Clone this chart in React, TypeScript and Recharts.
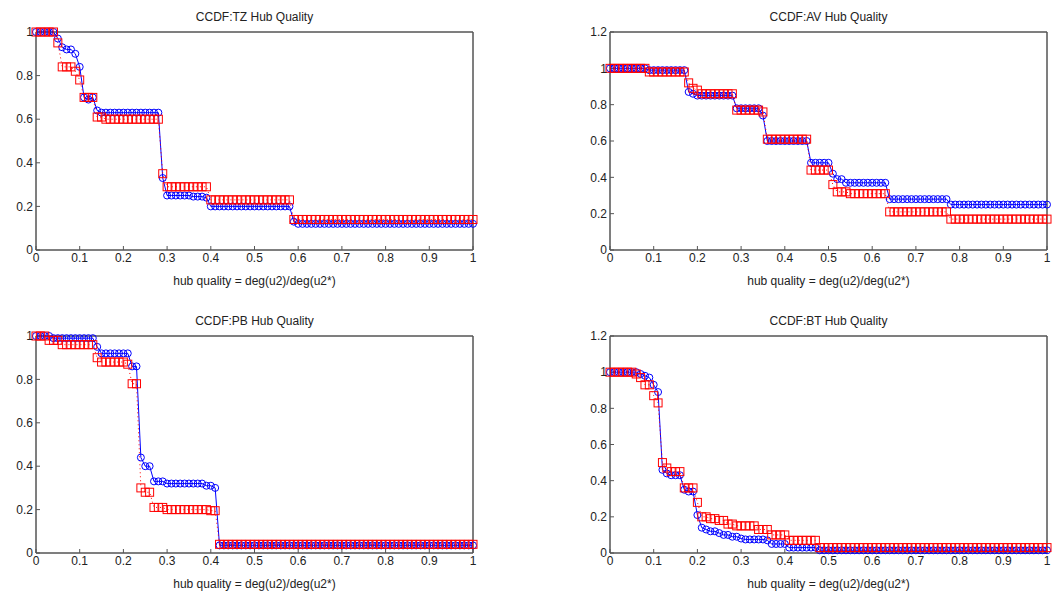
import { LineChart, Line, XAxis, YAxis, Label, ReferenceArea } from 'recharts';

// hub quality grid, step 0.01
const X = [
  0, 0.01, 0.02, 0.03, 0.04, 0.05, 0.06, 0.07, 0.08, 0.09,
  0.1, 0.11, 0.12, 0.13, 0.14, 0.15, 0.16, 0.17, 0.18, 0.19,
  0.2, 0.21, 0.22, 0.23, 0.24, 0.25, 0.26, 0.27, 0.28, 0.29,
  0.3, 0.31, 0.32, 0.33, 0.34, 0.35, 0.36, 0.37, 0.38, 0.39,
  0.4, 0.41, 0.42, 0.43, 0.44, 0.45, 0.46, 0.47, 0.48, 0.49,
  0.5, 0.51, 0.52, 0.53, 0.54, 0.55, 0.56, 0.57, 0.58, 0.59,
  0.6, 0.61, 0.62, 0.63, 0.64, 0.65, 0.66, 0.67, 0.68, 0.69,
  0.7, 0.71, 0.72, 0.73, 0.74, 0.75, 0.76, 0.77, 0.78, 0.79,
  0.8, 0.81, 0.82, 0.83, 0.84, 0.85, 0.86, 0.87, 0.88, 0.89,
  0.9, 0.91, 0.92, 0.93, 0.94, 0.95, 0.96, 0.97, 0.98, 0.99,
  1,
];

const TZ_BLUE = [
  1, 1, 1, 1, 1, 0.97, 0.93, 0.92, 0.92, 0.9,
  0.84, 0.7, 0.69, 0.7, 0.64, 0.63, 0.63, 0.63, 0.63, 0.63,
  0.63, 0.63, 0.63, 0.63, 0.63, 0.63, 0.63, 0.63, 0.63, 0.33,
  0.25, 0.25, 0.25, 0.25, 0.25, 0.25, 0.245, 0.245, 0.245, 0.24,
  0.2, 0.2, 0.2, 0.2, 0.2, 0.2, 0.2, 0.2, 0.2, 0.2,
  0.2, 0.2, 0.2, 0.2, 0.2, 0.2, 0.2, 0.2, 0.2, 0.13,
  0.12, 0.12, 0.12, 0.12, 0.12, 0.12, 0.12, 0.12, 0.12, 0.12,
  0.12, 0.12, 0.12, 0.12, 0.12, 0.12, 0.12, 0.12, 0.12, 0.12,
  0.12, 0.12, 0.12, 0.12, 0.12, 0.12, 0.12, 0.12, 0.12, 0.12,
  0.12, 0.12, 0.12, 0.12, 0.12, 0.12, 0.12, 0.12, 0.12, 0.12,
  0.12,
];
const TZ_RED = [
  1, 1, 1, 1, 1, 0.95, 0.84, 0.84, 0.84, 0.82,
  0.78, 0.7, 0.7, 0.7, 0.61, 0.61, 0.6, 0.6, 0.6, 0.6,
  0.6, 0.6, 0.6, 0.6, 0.6, 0.6, 0.6, 0.6, 0.6, 0.35,
  0.29, 0.29, 0.29, 0.29, 0.29, 0.29, 0.29, 0.29, 0.29, 0.29,
  0.23, 0.23, 0.23, 0.23, 0.23, 0.23, 0.23, 0.23, 0.23, 0.23,
  0.23, 0.23, 0.23, 0.23, 0.23, 0.23, 0.23, 0.23, 0.23, 0.14,
  0.14, 0.14, 0.14, 0.14, 0.14, 0.14, 0.14, 0.14, 0.14, 0.14,
  0.14, 0.14, 0.14, 0.14, 0.14, 0.14, 0.14, 0.14, 0.14, 0.14,
  0.14, 0.14, 0.14, 0.14, 0.14, 0.14, 0.14, 0.14, 0.14, 0.14,
  0.14, 0.14, 0.14, 0.14, 0.14, 0.14, 0.14, 0.14, 0.14, 0.14,
  0.14,
];

const AV_BLUE = [
  1, 1, 1, 1, 1, 1, 1, 1, 1, 0.99,
  0.99, 0.99, 0.99, 0.99, 0.99, 0.99, 0.99, 0.99, 0.87, 0.86,
  0.85, 0.85, 0.85, 0.85, 0.85, 0.85, 0.85, 0.85, 0.85, 0.78,
  0.78, 0.78, 0.78, 0.78, 0.78, 0.74, 0.6, 0.6, 0.6, 0.6,
  0.6, 0.6, 0.6, 0.6, 0.6, 0.6, 0.48, 0.48, 0.48, 0.48,
  0.48, 0.42, 0.39, 0.39, 0.37, 0.37, 0.37, 0.37, 0.37, 0.37,
  0.37, 0.37, 0.37, 0.37, 0.28, 0.28, 0.28, 0.28, 0.28, 0.28,
  0.28, 0.28, 0.28, 0.28, 0.28, 0.28, 0.28, 0.28, 0.25, 0.25,
  0.25, 0.25, 0.25, 0.25, 0.25, 0.25, 0.25, 0.25, 0.25, 0.25,
  0.25, 0.25, 0.25, 0.25, 0.25, 0.25, 0.25, 0.25, 0.25, 0.25,
  0.25,
];
const AV_RED = [
  1, 1, 1, 1, 1, 1, 1, 1, 1, 0.98,
  0.98, 0.98, 0.98, 0.98, 0.98, 0.98, 0.98, 0.98, 0.92, 0.89,
  0.88, 0.86, 0.86, 0.86, 0.86, 0.86, 0.86, 0.86, 0.86, 0.77,
  0.77, 0.77, 0.77, 0.77, 0.77, 0.76, 0.61, 0.61, 0.61, 0.61,
  0.61, 0.61, 0.61, 0.61, 0.61, 0.61, 0.44, 0.44, 0.44, 0.44,
  0.44, 0.36, 0.32, 0.32, 0.32, 0.31, 0.31, 0.31, 0.31, 0.31,
  0.31, 0.31, 0.31, 0.31, 0.21, 0.21, 0.21, 0.21, 0.21, 0.21,
  0.21, 0.21, 0.21, 0.21, 0.21, 0.21, 0.21, 0.21, 0.17, 0.17,
  0.17, 0.17, 0.17, 0.17, 0.17, 0.17, 0.17, 0.17, 0.17, 0.17,
  0.17, 0.17, 0.17, 0.17, 0.17, 0.17, 0.17, 0.17, 0.17, 0.17,
  0.17,
];

const PB_BLUE = [
  1, 1, 1, 1, 0.99, 0.99, 0.99, 0.99, 0.99, 0.99,
  0.99, 0.99, 0.99, 0.99, 0.95, 0.92, 0.92, 0.92, 0.92, 0.92,
  0.92, 0.92, 0.86, 0.86, 0.44, 0.4, 0.4, 0.33, 0.33, 0.33,
  0.32, 0.32, 0.32, 0.32, 0.32, 0.32, 0.32, 0.32, 0.32, 0.31,
  0.31, 0.3, 0.035, 0.035, 0.035, 0.035, 0.035, 0.035, 0.035, 0.035,
  0.035, 0.035, 0.035, 0.035, 0.035, 0.035, 0.035, 0.035, 0.035, 0.035,
  0.035, 0.035, 0.035, 0.035, 0.035, 0.035, 0.035, 0.035, 0.035, 0.035,
  0.035, 0.035, 0.035, 0.035, 0.035, 0.035, 0.035, 0.035, 0.035, 0.035,
  0.035, 0.035, 0.035, 0.035, 0.035, 0.035, 0.035, 0.035, 0.035, 0.035,
  0.035, 0.035, 0.035, 0.035, 0.035, 0.035, 0.035, 0.035, 0.035, 0.035,
  0.035,
];
const PB_RED = [
  1, 1, 1, 0.98, 0.98, 0.98, 0.96, 0.96, 0.96, 0.96,
  0.96, 0.96, 0.96, 0.96, 0.9, 0.88, 0.88, 0.88, 0.88, 0.88,
  0.88, 0.87, 0.78, 0.78, 0.3, 0.28, 0.28, 0.21, 0.21, 0.21,
  0.2, 0.2, 0.2, 0.2, 0.2, 0.2, 0.2, 0.2, 0.2, 0.2,
  0.195, 0.195, 0.04, 0.04, 0.04, 0.04, 0.04, 0.04, 0.04, 0.04,
  0.04, 0.04, 0.04, 0.04, 0.04, 0.04, 0.04, 0.04, 0.04, 0.04,
  0.04, 0.04, 0.04, 0.04, 0.04, 0.04, 0.04, 0.04, 0.04, 0.04,
  0.04, 0.04, 0.04, 0.04, 0.04, 0.04, 0.04, 0.04, 0.04, 0.04,
  0.04, 0.04, 0.04, 0.04, 0.04, 0.04, 0.04, 0.04, 0.04, 0.04,
  0.04, 0.04, 0.04, 0.04, 0.04, 0.04, 0.04, 0.04, 0.04, 0.04,
  0.04,
];

const BT_BLUE = [
  1, 1, 1, 1, 1, 1, 1, 0.99, 0.98, 0.97,
  0.93, 0.89, 0.46, 0.44, 0.43, 0.43, 0.43, 0.35, 0.34, 0.34,
  0.21, 0.14, 0.13, 0.12, 0.12, 0.11, 0.1, 0.1, 0.09, 0.09,
  0.08, 0.075, 0.075, 0.075, 0.075, 0.075, 0.07, 0.05, 0.05, 0.05,
  0.05, 0.03, 0.03, 0.03, 0.03, 0.03, 0.03, 0.03, 0.015, 0.015,
  0.015, 0.015, 0.015, 0.015, 0.015, 0.015, 0.015, 0.015, 0.015, 0.015,
  0.015, 0.015, 0.015, 0.015, 0.015, 0.015, 0.015, 0.015, 0.015, 0.015,
  0.015, 0.015, 0.015, 0.015, 0.015, 0.015, 0.015, 0.015, 0.015, 0.015,
  0.015, 0.015, 0.015, 0.015, 0.015, 0.015, 0.015, 0.015, 0.015, 0.015,
  0.015, 0.015, 0.015, 0.015, 0.015, 0.015, 0.015, 0.015, 0.015, 0.015,
  0.015,
];
const BT_RED = [
  1, 1, 1, 1, 1, 1, 0.99, 0.97, 0.93, 0.93,
  0.87, 0.83, 0.5, 0.47, 0.45, 0.45, 0.45, 0.36, 0.36, 0.36,
  0.28, 0.2, 0.2, 0.19, 0.19, 0.18, 0.18, 0.16, 0.16, 0.15,
  0.15, 0.15, 0.15, 0.15, 0.13, 0.13, 0.13, 0.1, 0.1, 0.1,
  0.1, 0.07, 0.07, 0.07, 0.07, 0.07, 0.07, 0.07, 0.03, 0.03,
  0.03, 0.03, 0.03, 0.03, 0.03, 0.03, 0.03, 0.03, 0.03, 0.03,
  0.03, 0.03, 0.03, 0.03, 0.03, 0.03, 0.03, 0.03, 0.03, 0.03,
  0.03, 0.03, 0.03, 0.03, 0.03, 0.03, 0.03, 0.03, 0.03, 0.03,
  0.03, 0.03, 0.03, 0.03, 0.03, 0.03, 0.03, 0.03, 0.03, 0.03,
  0.03, 0.03, 0.03, 0.03, 0.03, 0.03, 0.03, 0.03, 0.03, 0.03,
  0.03,
];

const X_TICKS = [0, 0.1, 0.2, 0.3, 0.4, 0.5, 0.6, 0.7, 0.8, 0.9, 1];
const Y_TICKS_1 = [0, 0.2, 0.4, 0.6, 0.8, 1];
const Y_TICKS_12 = [0, 0.2, 0.4, 0.6, 0.8, 1, 1.2];

const FONT = '"Liberation Sans", Arial, Helvetica, sans-serif';
const AXIS = '#555';
const TICK = { fill: '#222', fontSize: 12, fontFamily: FONT };

function SquareDot(props: any) {
  const { cx, cy, index } = props;
  if (cx == null || cy == null) return <g key={index} />;
  return (
    <rect key={index} x={cx - 4} y={cy - 4} width={8} height={8}
      fill="none" stroke="#ff0000" strokeWidth={1} />
  );
}

type PanelProps = {
  title: string;
  blue: number[];
  red: number[];
  yMax: number;
  yTicks: number[];
  left: number;
  top: number;
  height: number;
};

function Panel({ title, blue, red, yMax, yTicks, left, top, height }: PanelProps) {
  const data = X.map((x, i) => ({ x, blue: blue[i], red: red[i] }));
  return (
    <div style={{ position: 'absolute', left, top, width: 480, height }}>
      <div style={{
        position: 'absolute', left: 36, width: 437, top: 10, textAlign: 'center',
        fontFamily: FONT, fontSize: 12, lineHeight: '14px', color: '#222',
      }}>{title}</div>
      <LineChart width={480} height={height} data={data}
        margin={{ top: 31, right: 6, left: 6, bottom: 0 }}>
        <XAxis dataKey="x" type="number" domain={[0, 1]} ticks={X_TICKS} height={40}
          tick={TICK} tickSize={-4} tickMargin={7} stroke={AXIS}
          tickFormatter={(v) => String(v)}>
          <Label value="hub quality = deg(u2)/deg(u2*)" position="insideBottom" offset={5}
            style={{ fill: '#222', fontSize: 12, fontFamily: FONT }} />
        </XAxis>
        <XAxis xAxisId="top" orientation="top" dataKey="x" type="number" domain={[0, 1]}
          ticks={X_TICKS} height={1} tick={false} tickSize={-4} stroke={AXIS} />
        <YAxis type="number" domain={[0, yMax]} ticks={yTicks} width={30}
          tick={TICK} tickSize={-4} tickMargin={7} stroke={AXIS}
          tickFormatter={(v) => String(v)} />
        <YAxis yAxisId="right" orientation="right" type="number" domain={[0, yMax]}
          ticks={yTicks} width={1} tick={false} tickSize={-4} stroke={AXIS} />
        <ReferenceArea x1={0} x2={1} y1={0} y2={yMax} fill="none" fillOpacity={0}
          stroke={AXIS} strokeWidth={1} ifOverflow="extendDomain" />
        <Line dataKey="blue" type="linear" stroke="#0000ff" strokeWidth={1}
          dot={{ r: 3.5, fill: 'none', stroke: '#0000ff', strokeWidth: 1 }}
          isAnimationActive={false} />
        <Line dataKey="red" type="linear" stroke="#ff0000" strokeWidth={1}
          strokeDasharray="1 3" dot={SquareDot} isAnimationActive={false} />
      </LineChart>
    </div>
  );
}

export default function App() {
  return (
    <div style={{ position: 'absolute', left: 0, top: 0, width: 1054, height: 593, background: '#fff' }}>
      <Panel title="CCDF:TZ Hub Quality" blue={TZ_BLUE} red={TZ_RED} yMax={1} yTicks={Y_TICKS_1}
        left={0} top={0} height={290} />
      <Panel title="CCDF:AV Hub Quality" blue={AV_BLUE} red={AV_RED} yMax={1.2} yTicks={Y_TICKS_12}
        left={574} top={0} height={290} />
      <Panel title="CCDF:PB Hub Quality" blue={PB_BLUE} red={PB_RED} yMax={1} yTicks={Y_TICKS_1}
        left={0} top={304} height={289} />
      <Panel title="CCDF:BT Hub Quality" blue={BT_BLUE} red={BT_RED} yMax={1.2} yTicks={Y_TICKS_12}
        left={574} top={304} height={289} />
    </div>
  );
}
